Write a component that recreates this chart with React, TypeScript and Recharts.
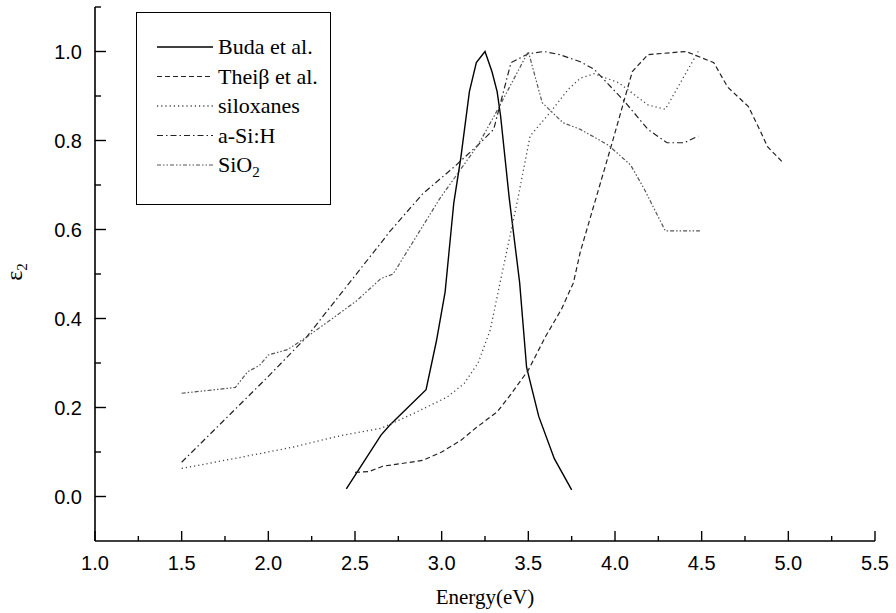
import { LineChart, Line, XAxis, YAxis, Legend } from 'recharts'

// energies (eV) and normalised eps2
const budaEnergy = [2.45, 2.65, 2.7, 2.91, 2.97, 3.02, 3.07, 3.11, 3.16, 3.2, 3.25, 3.29, 3.32, 3.34, 3.39, 3.45, 3.49, 3.56, 3.65, 3.75]
const budaEps = [0.017, 0.138, 0.16, 0.24, 0.35, 0.46, 0.66, 0.76, 0.91, 0.975, 1.0, 0.955, 0.91, 0.855, 0.67, 0.48, 0.29, 0.18, 0.085, 0.015]

const theissEnergy = [2.5, 2.58, 2.66, 2.89, 3.0, 3.11, 3.2, 3.32, 3.4, 3.5, 3.6, 3.69, 3.76, 3.8, 3.98, 4.1, 4.19, 4.41, 4.57, 4.65, 4.77, 4.84, 4.88, 4.97]
const theissEps = [0.054, 0.056, 0.068, 0.081, 0.1, 0.126, 0.155, 0.19, 0.23, 0.284, 0.36, 0.42, 0.48, 0.55, 0.79, 0.955, 0.993, 1.0, 0.975, 0.92, 0.876, 0.82, 0.786, 0.75]

const siloxEnergy = [1.5, 1.84, 2.13, 2.42, 2.65, 2.84, 3.03, 3.13, 3.21, 3.28, 3.34, 3.44, 3.51, 3.63, 3.73, 3.8, 3.88, 4.02, 4.19, 4.29, 4.48]
const siloxEps = [0.063, 0.088, 0.11, 0.137, 0.153, 0.187, 0.223, 0.254, 0.3, 0.374, 0.486, 0.67, 0.81, 0.865, 0.915, 0.94, 0.95, 0.93, 0.88, 0.87, 1.0]

const asihEnergy = [1.5, 2.0, 2.22, 2.65, 2.7, 2.89, 3.07, 3.21, 3.3, 3.4, 3.5, 3.59, 3.68, 3.8, 3.88, 4.05, 4.19, 4.3, 4.4, 4.48]
const asihEps = [0.077, 0.27, 0.358, 0.57, 0.595, 0.68, 0.74, 0.79, 0.825, 0.975, 0.995, 1.0, 0.993, 0.977, 0.96, 0.89, 0.825, 0.795, 0.795, 0.81]

const sio2Energy = [1.5, 1.81, 1.88, 1.95, 2.0, 2.11, 2.22, 2.37, 2.51, 2.65, 2.72, 2.99, 3.21, 3.31, 3.5, 3.58, 3.7, 3.8, 3.96, 4.09, 4.17, 4.29, 4.49]
const sio2Eps = [0.232, 0.245, 0.28, 0.295, 0.318, 0.33, 0.358, 0.4, 0.44, 0.49, 0.5, 0.67, 0.79, 0.86, 1.0, 0.885, 0.84, 0.825, 0.79, 0.745, 0.69, 0.597, 0.597]

const X_TICKS = [1, 1.25, 1.5, 1.75, 2, 2.25, 2.5, 2.75, 3, 3.25, 3.5, 3.75, 4, 4.25, 4.5, 4.75, 5, 5.25, 5.5]
const Y_TICKS = [0, 0.1, 0.2, 0.3, 0.4, 0.5, 0.6, 0.7, 0.8, 0.9, 1.0, 1.1]

const toPoints = (xs: number[], ys: number[]) => xs.map((x, i) => ({ x, y: ys[i] }))

const SERIES = [
  { name: 'Buda et al.', data: toPoints(budaEnergy, budaEps), stroke: '#000', dash: undefined, width: 1.4 },
  { name: 'Theiβ et al.', data: toPoints(theissEnergy, theissEps), stroke: '#222', dash: '5 3', width: 1.2 },
  { name: 'siloxanes', data: toPoints(siloxEnergy, siloxEps), stroke: '#444', dash: '1.2 3', width: 1.3 },
  { name: 'a-Si:H', data: toPoints(asihEnergy, asihEps), stroke: '#222', dash: '6 3 1.5 3', width: 1.2 },
  { name: 'SiO2', data: toPoints(sio2Energy, sio2Eps), stroke: '#555', dash: '4 2 1.5 2 1.5 2', width: 1.2 }
]

const SANS = '"Liberation Sans", Arial, sans-serif'
const SERIF = '"Liberation Serif", "Times New Roman", serif'

const isStep = (v: number, n: number) => Math.abs(v * n - Math.round(v * n)) < 1e-6

const XTick = (props: any) => {
  const { x, y, payload } = props
  const v = payload.value
  const major = isStep(v, 2)
  return (
    <g>
      <line x1={x} x2={x} y1={y} y2={y - (major ? 10 : 5)} stroke='#000' strokeWidth={1.4} />
      {major ? (
        <text x={x} y={y + 29} textAnchor='middle' fontSize={20} style={{ fontFamily: SANS }} fill='#000'>
          {v.toFixed(1)}
        </text>
      ) : null}
    </g>
  )
}

const YTick = (props: any) => {
  const { x, y, payload } = props
  const v = payload.value
  const major = isStep(v, 5)
  return (
    <g>
      <line x1={x} x2={x + (major ? 11 : 6)} y1={y} y2={y} stroke='#000' strokeWidth={1.4} />
      {major ? (
        <text x={x - 13} y={y + 7} textAnchor='end' fontSize={20} style={{ fontFamily: SANS }} fill='#000'>
          {v.toFixed(1)}
        </text>
      ) : null}
    </g>
  )
}

const YTitle = () => (
  <text x={22} y={272} transform='rotate(-90, 22, 272)' textAnchor='middle' fontSize={24} style={{ fontFamily: SERIF }} fill='#000'>
    ε<tspan dy={5} fontSize={15}>2</tspan>
  </text>
)

const XTitle = () => (
  <text x={485} y={604} textAnchor='middle' fontSize={21} style={{ fontFamily: SERIF }} fill='#000'>
    Energy(eV)
  </text>
)

const LegendBox = () => (
  <div style={{ width: 195, height: 193, border: '1.5px solid #000', boxSizing: 'border-box', background: '#fff' }}>
    <svg width={192} height={190} style={{ display: 'block' }}>
      {SERIES.map((s, i) => {
        const y = 34 + i * 29.5
        return (
          <g key={s.name}>
            <line x1={20} x2={76} y1={y} y2={y} stroke={s.stroke} strokeWidth={s.width} strokeDasharray={s.dash} />
            <text x={81} y={y + 7} fontSize={22} style={{ fontFamily: SERIF }} fill='#000'>
              {s.name === 'SiO2' ? (
                <>
                  SiO<tspan dy={5} fontSize={15}>2</tspan>
                </>
              ) : (
                s.name
              )}
            </text>
          </g>
        )
      })}
    </svg>
  </div>
)

export default function App() {
  return (
    <div style={{ position: 'absolute', left: 0, top: 0, background: '#fff' }}>
      <LineChart width={896} height={613} margin={{ top: 7, right: 21, bottom: 12, left: 0 }}>
        <XAxis
          dataKey='x'
          type='number'
          domain={[1, 5.5]}
          ticks={X_TICKS}
          interval={0}
          allowDataOverflow
          height={60}
          tickSize={0}
          tickMargin={0}
          tickLine={false}
          tick={<XTick />}
          axisLine={{ stroke: '#000', strokeWidth: 1.6 }}
          label={<XTitle />}
        />
        <YAxis
          type='number'
          domain={[-0.1, 1.1]}
          ticks={Y_TICKS}
          interval={0}
          allowDataOverflow
          width={95}
          tickSize={0}
          tickMargin={0}
          tickLine={false}
          tick={<YTick />}
          axisLine={{ stroke: '#000', strokeWidth: 1.6 }}
          label={<YTitle />}
        />
        <Legend
          layout='vertical'
          align='center'
          verticalAlign='middle'
          content={<LegendBox />}
          wrapperStyle={{ left: 136, top: 12, width: 195, height: 193 }}
        />
        {SERIES.map((s) => (
          <Line
            key={s.name}
            data={s.data}
            dataKey='y'
            name={s.name}
            type='linear'
            stroke={s.stroke}
            strokeWidth={s.width}
            strokeDasharray={s.dash}
            dot={false}
            activeDot={false}
            isAnimationActive={false}
          />
        ))}
      </LineChart>
    </div>
  )
}
